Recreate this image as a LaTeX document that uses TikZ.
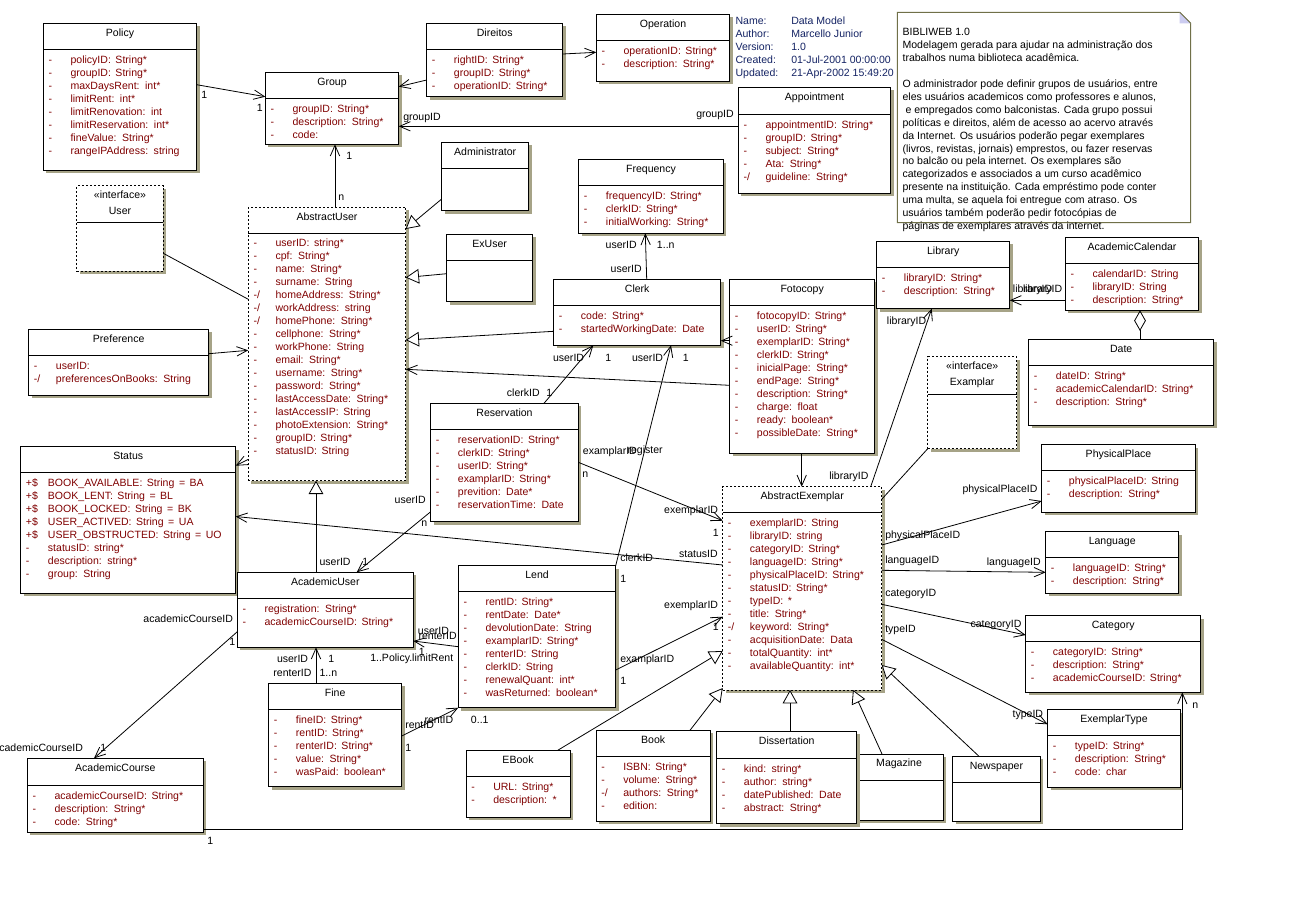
\documentclass[tikz,border=0pt]{standalone}
\usepackage{fontspec}
\setmainfont{Liberation Sans}
\usetikzlibrary{arrows.meta,fit,calc}

\definecolor{attred}{RGB}{128,0,0}
\definecolor{shadowc}{RGB}{166,163,135}
\definecolor{notebd}{RGB}{112,112,72}
\definecolor{notefold}{RGB}{204,204,240}
\definecolor{metablue}{RGB}{20,35,100}

\newcommand\umlfont{\fontsize{7.9pt}{9.7pt}\selectfont}
\newcommand\attfont{\umlfont\spaceskip=3.4pt plus 1pt\relax}
\newcommand\vism{-}
\newcommand\visd{-/}
\newcommand\visp{+\$}

\tikzset{
  cls/.style={draw=black, fill=white, line width=0.75pt, inner sep=0pt, outer sep=0pt},
  ifc/.style={cls, dash pattern=on 1.5pt off 1.5pt},
  hdr/.style={line width=0.75pt},
  ttl/.style={font=\umlfont, inner sep=0pt, text height=5.6pt, text depth=0pt},
  att/.style={font=\attfont, text=attred, inner sep=0pt, anchor=west, text height=5.6pt, text depth=0pt},
  lbl/.style={font=\umlfont, inner sep=0pt, text height=5.6pt, text depth=0pt},
  meta/.style={font=\umlfont, text=metablue, inner sep=0pt, anchor=west, text height=5.6pt, text depth=0pt},
  assoc/.style={line width=0.6pt, -{Straight Barb[length=8pt,width=7pt]}},
  gen/.style={line width=0.6pt, -{Triangle[length=10pt,width=11pt,fill=white]}},
  agg/.style={line width=0.6pt, -{Diamond[open,length=15.5pt,width=8.8pt]}},
  plain/.style={line width=0.6pt},
}

% class box: [style]{name}{x1}{y1}{x2}{y2}{header line y}{title}
\newcommand\umlclass[8][cls]{%
  \fill[shadowc] (#3+3,#4+3) rectangle (#5+3,#6+3);
  \node[#1, fit={(#3,#4)(#5,#6)}] (#2) {};
  \draw[hdr] (#3,#7) -- (#5,#7);
  \node[ttl] at ({(#3+#5)/2},#4+9) {#8};
  \xdef\ax{#3}\xdef\ay{#7}%
}
% attribute rows of the last class box
\newcommand\attrs[1]{%
  \foreach \avis/\atext [count=\ai from 0] in {#1}{%
    \node[att] at (\ax+5,\ay+10.2+13*\ai) {\csname vis\avis\endcsname};
    \node[att] at (\ax+27,\ay+10.2+13*\ai) {\atext};
  }%
}

\begin{document}
\begin{tikzpicture}[x=0.75pt,y=-0.75pt]
\useasboundingbox (0,0) rectangle (1309,897);
\fill[white] (0,0) rectangle (1309,897);

% ---------- classes ----------
\umlclass{policy}{43.3}{23.3}{196.7}{170}{49.3}{Policy}
\attrs{m/policyID: String*, m/groupID: String*, m/maxDaysRent: int*, m/limitRent: int*,
  m/limitRenovation: int, m/limitReservation: int*, m/fineValue: String*, m/rangeIPAddress: string}

\umlclass{group}{265.3}{72.3}{398.7}{144.3}{98.7}{Group}
\attrs{m/groupID: String*, m/description: String*, m/code:}

\umlclass{direitos}{426.7}{23.3}{562.7}{96.7}{49.3}{Direitos}
\attrs{m/rightID: String*, m/groupID: String*, m/operationID: String*}

\umlclass{operation}{596.3}{14.3}{729.7}{81}{40.7}{Operation}
\attrs{m/operationID: String*, m/description: String*}

\umlclass{appointment}{738.3}{87.3}{890.7}{193.3}{114.3}{Appointment}
\attrs{m/appointmentID: String*, m/groupID: String*, m/subject: String*, m/Ata: String*, d/guideline: String*}

\umlclass{administrator}{441.7}{142.3}{528.7}{210.7}{168.3}{Administrator}

\umlclass{frequency}{578.7}{159.7}{723.3}{233.3}{185.3}{Frequency}
\attrs{m/frequencyID: String*, m/clerkID: String*, m/initialWorking: String*}

\umlclass[ifc]{user}{76.7}{185.7}{163.3}{271.3}{222.3}{«interface»}
\node[ttl] at (120,210.7) {User};

\umlclass[ifc]{abstractuser}{248.3}{207.3}{405.7}{480.7}{233}{AbstractUser}
\attrs{m/userID: string*, m/cpf: String*, m/name: String*, m/surname: String,
  d/homeAddress: String*, d/workAddress: string, d/homePhone: String*, m/cellphone: String*,
  m/workPhone: String, m/email: String*, m/username: String*, m/password: String*,
  m/lastAccessDate: String*, m/lastAccessIP: String, m/photoExtension: String*,
  m/groupID: String*, m/statusID: String}

\umlclass{exuser}{446.7}{234.3}{532.7}{301.7}{260.3}{ExUser}

\umlclass{preference}{28.7}{329.3}{208.7}{395.3}{355.3}{Preference}
\attrs{m/userID:, d/preferencesOnBooks: String}

\umlclass{clerk}{553.7}{279.3}{720.7}{345.3}{305.3}{Clerk}
\attrs{m/code: String*, m/startedWorkingDate: Date}

\umlclass{fotocopy}{729.7}{279.3}{874.7}{453.3}{305.3}{Fotocopy}
\attrs{m/fotocopyID: String*, m/userID: String*, m/exemplarID: String*, m/clerkID: String*,
  m/inicialPage: String*, m/endPage: String*, m/description: String*, m/charge: float,
  m/ready: boolean*, m/possibleDate: String*}

\umlclass{library}{876.7}{241.3}{1009.7}{308.7}{267.3}{Library}
\attrs{m/libraryID: String*, m/description: String*}

\umlclass{acal}{1065.3}{237.3}{1198.7}{310.3}{263.3}{AcademicCalendar}
\attrs{m/calendarID: String, m/libraryID: String, m/description: String*}

\umlclass{date}{1028.7}{339.3}{1213.7}{425.3}{365.3}{Date}
\attrs{m/dateID: String*, m/academicCalendarID: String*, m/description: String*}

\umlclass[ifc]{examplar}{927.7}{356.7}{1016.7}{448.7}{394.3}{«interface»}
\node[ttl] at (972.2,381.7) {Examplar};

\umlclass{reservation}{430.7}{403.3}{578.3}{521.7}{429.3}{Reservation}
\attrs{m/reservationID: String*, m/clerkID: String*, m/userID: String*, m/examplarID: String*,
  m/prevition: Date*, m/reservationTime: Date}

\umlclass{status}{20.7}{446.7}{235.7}{593.3}{472.7}{Status}
\attrs{p/BOOK\_AVAILABLE: String = BA, p/BOOK\_LENT: String = BL, p/BOOK\_LOCKED: String = BK,
  p/USER\_ACTIVED: String = UA, p/USER\_OBSTRUCTED: String = UO, m/statusID: string*,
  m/description: string*, m/group: String}

\umlclass{physplace}{1041.7}{444.7}{1195.3}{512}{470.7}{PhysicalPlace}
\attrs{m/physicalPlaceID: String, m/description: String*}

\umlclass[ifc]{ae}{722.7}{486.7}{881.7}{690}{512.3}{AbstractExemplar}
\attrs{m/exemplarID: String, m/libraryID: string, m/categoryID: String*, m/languageID: String*,
  m/physicalPlaceID: String*, m/statusID: String*, m/typeID: *, m/title: String*,
  d/keyword: String*, m/acquisitionDate: Data, m/totalQuantity: int*, m/availableQuantity: int*}

\umlclass{language}{1045.7}{531.7}{1178.7}{593.3}{557.3}{Language}
\attrs{m/languageID: String*, m/description: String*}

\umlclass{lend}{458.3}{565.7}{615.7}{707.7}{591.3}{Lend}
\attrs{m/rentID: String*, m/rentDate: Date*, m/devolutionDate: String, m/examplarID: String*,
  m/renterID: String, m/clerkID: String, m/renewalQuant: int*, m/wasReturned: boolean*}

\umlclass{academicuser}{237.3}{572.3}{413.3}{647.3}{598.3}{AcademicUser}
\attrs{m/registration: String*, m/academicCourseID: String*}

\umlclass{category}{1025.7}{615.7}{1200.7}{692.3}{641.3}{Category}
\attrs{m/categoryID: String*, m/description: String*, m/academicCourseID: String*}

\umlclass{fine}{268.7}{683.3}{401.7}{786.7}{709.3}{Fine}
\attrs{m/fineID: String*, m/rentID: String*, m/renterID: String*, m/value: String*, m/wasPaid: boolean*}

\umlclass{exemplartype}{1047.7}{709.7}{1180.3}{787.3}{735.3}{ExemplarType}
\attrs{m/typeID: String*, m/description: String*, m/code: char}

\umlclass{academiccourse}{27.3}{758.3}{203.3}{832.3}{785.7}{AcademicCourse}
\attrs{m/academicCourseID: String*, m/description: String*, m/code: String*}

\umlclass{ebook}{466}{750.3}{570}{817.3}{776.7}{EBook}
\attrs{m/URL: String*, m/description: *}

\umlclass{book}{596}{730.3}{710.4}{821.3}{756.3}{Book}
\attrs{m/ISBN: String*, m/volume: String*, d/authors: String*, m/edition:}

\umlclass{magazine}{855}{754}{943.1}{820.3}{780}{Magazine}

\umlclass{dissertation}{716.7}{731.3}{856.8}{823.7}{758.7}{Dissertation}
\attrs{m/kind: string*, m/author: string*, m/datePublished: Date, m/abstract: String*}

\umlclass{newspaper}{952.8}{756.3}{1040}{821.3}{782.3}{Newspaper}

% ---------- model properties ----------
\foreach \mk/\mv [count=\mi from 0] in {Name:/Data Model, Author:/Marcello Junior, Version:/1.0,
    Created:/01-Jul-2001 00:00:00, Updated:/21-Apr-2002 15:49:20}{
  \node[meta] at (735.3,20.7+12.9*\mi) {\mk};
  \node[meta] at (791,20.7+12.9*\mi) {\mv};
}

% ---------- note ----------
\draw[notebd, line width=0.75pt, fill=white]
  (897.3,12.3) -- (1179.7,12.3) -- (1190.7,23.3) -- (1190.7,222.7) -- (897.3,222.7) -- cycle;
\fill[notefold] (1179.7,12.3) -- (1190.7,23.3) -- (1179.7,23.3) -- cycle;
\draw[notebd, line width=0.6pt] (1179.7,12.3) -- (1190.7,23.3);
\node[font=\umlfont, align=left, inner sep=0pt, anchor=north west] (note) at (902.3,28) {%
BIBLIWEB 1.0\\
Modelagem gerada para ajudar na administração dos\\
trabalhos numa biblioteca acadêmica.\\[9.7pt]
O administrador pode definir grupos de usuários, entre\\
eles usuários academicos como professores e alunos,\\
\ e empregados como balconistas. Cada grupo possui\\
políticas e direitos, além de acesso ao acervo através\\
da Internet. Os usuários poderão pegar exemplares\\
(livros, revistas, jornais) emprestos, ou fazer reservas\\
no balcão ou pela internet. Os exemplares são\\
categorizados e associados a um curso acadêmico\\
presente na instituição. Cada empréstimo pode conter\\
uma multa, se aquela foi entregue com atraso. Os\\
usuários também poderão pedir fotocópias de\\
páginas de exemplares através da internet.};

% ---------- connectors ----------
% Policy -> Group
\draw[assoc] (policy.east |- 0,84.7) -- (group.west |- 0,96.7);
\node[lbl,anchor=west] at (201,95) {1};
\node[lbl,anchor=east] at (263,108) {1};
% Direitos -> Group, Direitos -> Operation
\draw[assoc] (direitos.west |- 0,80) -- (group.east |- 0,86.7);
\draw[assoc] (direitos.east |- 0,54) -- (operation.west |- 0,52.3);
% Appointment -> Group
\draw[assoc] (appointment.west |- 0,126.3) -- (group.east |- 0,126.3);
\node[lbl,anchor=west] at (403,117) {groupID};
\node[lbl,anchor=east] at (734,114) {groupID};
% AbstractUser -> Group
\draw[assoc] (abstractuser.north -| 335,0) -- (group.south -| 335,0);
\node[lbl,anchor=west] at (346,156) {1};
\node[lbl,anchor=west] at (338,196.7) {n};
% User -- AbstractUser
\draw[plain] (user.east |- 0,253.3) -- (abstractuser.west |- 0,299.3);
% Preference -> AbstractUser
\draw[assoc] (preference.east |- 0,353.7) -- (abstractuser.west |- 0,350.3);
% AbstractUser -> Status
\draw[assoc] (abstractuser.west |- 0,459.3) -- (status.east |- 0,465.7);
% specialisations of AbstractUser
\draw[gen] (administrator.west |- 0,199) -- (abstractuser.east |- 0,229);
\draw[gen] (exuser.west |- 0,273.7) -- (abstractuser.east |- 0,277.5);
\draw[gen] (clerk.west |- 0,331.3) -- (abstractuser.east |- 0,340);
\draw[gen] (academicuser.north -| 316,0) -- (abstractuser.south -| 316,0);
\node[lbl,anchor=west] at (319.3,561.7) {userID};
% Fotocopy
\draw[assoc] (fotocopy.west |- 0,385.3) -- (abstractuser.east |- 0,369.3);
\draw[assoc] (fotocopy.west |- 0,340.7) -- (clerk.east |- 0,340.7);
\draw[assoc] (fotocopy.south -| 801.7,0) -- (ae.north -| 801.7,0);
% Clerk -> Frequency
\draw[assoc] (clerk.north -| 646.7,0) -- (frequency.south -| 645.3,0);
\node[lbl,anchor=east] at (637,245) {userID};
\node[lbl,anchor=west] at (656.7,245) {1..n};
\node[lbl,anchor=east] at (642,268.3) {userID};
% Reservation -> Clerk
\draw[assoc] (reservation.north -| 544,0) -- (clerk.south -| 593.3,0);
\node[lbl,anchor=east] at (584.3,357.7) {userID};
\node[lbl,anchor=west] at (605,357.7) {1};
\node[lbl,anchor=east] at (540,392.7) {clerkID};
\node[lbl,anchor=west] at (546,392.7) {1};
% Lend -> Clerk
\draw[assoc] (lend.north east) -- (clerk.south -| 671,0);
\node[lbl,anchor=east] at (663.3,357.7) {userID};
\node[lbl,anchor=west] at (682.7,357.7) {1};
\node[lbl,anchor=west] at (627.3,450) {register};
\node[lbl,anchor=west] at (620,557.3) {clerkID};
\node[lbl,anchor=west] at (620,578.3) {1};
% Reservation -> AbstractExemplar
\draw[assoc] (reservation.east |- 0,462.3) -- (ae.west |- 0,520.7);
\node[lbl,anchor=west] at (582.7,451) {examplarID};
\node[lbl,anchor=west] at (582,473.3) {n};
\node[lbl,anchor=east] at (718.3,510) {exemplarID};
\node[lbl,anchor=east] at (719,532.3) {1};
% AbstractExemplar -> Status
\draw[assoc] (ae.west |- 0,565) -- (status.east |- 0,516.5);
\node[lbl,anchor=east] at (718,553.3) {statusID};
% Reservation -> AcademicUser
\draw[assoc] (reservation.west |- 0,511.7) -- (academicuser.north -| 356.7,0);
\node[lbl,anchor=east] at (426,500) {userID};
\node[lbl,anchor=west] at (421,522.7) {n};
\node[lbl,anchor=west] at (362,561.7) {1};
% AcademicUser -> AcademicCourse
\draw[assoc] (academicuser.west |- 0,631.7) -- (academiccourse.north -| 94,0);
\node[lbl,anchor=east] at (233.3,619) {academicCourseID};
\node[lbl,anchor=west] at (229,641.7) {1};
\node[lbl,anchor=east] at (83.3,747.7) {academicCourseID};
\node[lbl,anchor=west] at (100,747.7) {1};
% Fine -> AcademicUser
\draw[assoc] (fine.north -| 316,0) -- (academicuser.south -| 316,0);
\node[lbl,anchor=east] at (308.3,659) {userID};
\node[lbl,anchor=west] at (328,659) {1};
\node[lbl,anchor=east] at (311.7,672.3) {renterID};
\node[lbl,anchor=west] at (319.3,672.3) {1..n};
% Lend -> AcademicUser
\draw[assoc] (lend.west |- 0,646.7) -- (academicuser.east |- 0,641);
\node[lbl,anchor=west] at (417.7,630.7) {userID};
\node[lbl,anchor=west] at (418.3,635.3) {renterID};
\node[lbl,anchor=west] at (418.5,651.7) {1};
\node[lbl,anchor=west] at (370,657.7) {1..Policy.limitRent};
% Fine -> Lend
\draw[assoc] (fine.east |- 0,736) -- (lend.south west);
\node[lbl,anchor=west] at (405,725) {rentID};
\node[lbl,anchor=west] at (424.3,720) {rentID};
\node[lbl,anchor=west] at (405,747.3) {1};
\node[lbl,anchor=west] at (470.7,719.3) {0..1};
% Lend -> AbstractExemplar
\draw[assoc] (lend.east |- 0,670) -- (ae.west |- 0,616.7);
\node[lbl,anchor=west] at (620,659) {examplarID};
\node[lbl,anchor=west] at (620,681) {1};
\node[lbl,anchor=east] at (718.3,605) {exemplarID};
\node[lbl,anchor=east] at (719,626.7) {1};
% AbstractExemplar -> Library
\draw[assoc] (ae.north -| 870.7,0) -- (library.south -| 931.7,0);
\node[lbl,anchor=west] at (829,475.7) {libraryID};
\node[lbl,anchor=west] at (886.7,320.7) {libraryID};
% AcademicCalendar -> Library
\draw[assoc] (acal.west |- 0,300.3) -- (library.east |- 0,300.3);
\node[lbl,anchor=west] at (1012.7,289) {libraryID};
\node[lbl,anchor=east] at (1062.5,289) {libraryID};
% Date <>- AcademicCalendar
\draw[agg] (date.north -| 1140,0) -- (acal.south -| 1140,0);
% Examplar -- AbstractExemplar
\draw[plain] (examplar.south west) -- (ae.east |- 0,499.3);
% AbstractExemplar -> lookup tables
\draw[assoc] (ae.east |- 0,545) -- (physplace.west |- 0,501);
\node[lbl,anchor=east] at (1037.7,489) {physicalPlaceID};
\node[lbl,anchor=west] at (885,535) {physicalPlaceID};
\draw[assoc] (ae.east |- 0,570.3) -- (language.west |- 0,572.3);
\node[lbl,anchor=west] at (885,560) {languageID};
\node[lbl,anchor=east] at (1041,562) {languageID};
\draw[assoc] (ae.east |- 0,604.3) -- (category.west |- 0,635);
\node[lbl,anchor=west] at (885,593) {categoryID};
\node[lbl,anchor=east] at (1021.7,624) {categoryID};
\draw[assoc] (ae.east |- 0,639.3) -- (exemplartype.west |- 0,724.3);
\node[lbl,anchor=west] at (885,628.3) {typeID};
\node[lbl,anchor=east] at (1043.3,713.3) {typeID};
% AcademicCourse -> Category
\draw[assoc] (academiccourse.east |- 0,829.3) -| (category.south -| 1182.3,0);
\node[lbl,anchor=west] at (207,841) {1};
\node[lbl,anchor=west] at (1192,705) {n};
% specialisations of AbstractExemplar
\draw[gen] (ebook.north -| 557.7,0) -- (ae.west |- 0,651);
\draw[gen] (book.north -| 690,0) -- (ae.west |- 0,688);
\draw[gen] (dissertation.north -| 790,0) -- (ae.south -| 790,0);
\draw[gen] (magazine.north -| 882,0) -- (ae.south -| 853,0);
\draw[gen] (newspaper.north -| 979,0) -- (ae.east |- 0,665);
\end{tikzpicture}
\end{document}
